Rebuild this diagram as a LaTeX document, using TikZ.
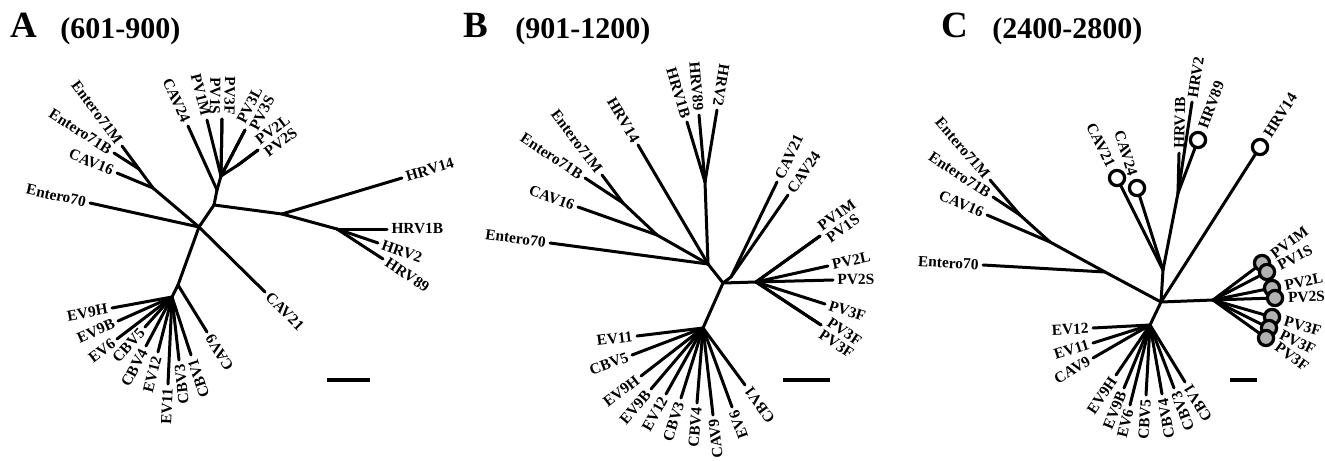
\documentclass[tikz,border=0pt]{standalone}
\usepackage{fontspec}
\setmainfont{Liberation Serif}
\usetikzlibrary{calc}
\definecolor{pvgray}{RGB}{178,178,178}
\newcommand{\lbfont}{\fontsize{7.7}{8}\selectfont\bfseries}

\begin{document}
\begin{tikzpicture}[x=0.5pt, y=-0.5pt,
    branch/.style={line width=1.5pt, line cap=round},
    tiplab/.style={pos=1, sloped, allow upside down, anchor=west, inner xsep=1.5pt, inner ysep=0.3pt, font=\lbfont},
    tiplabr/.style={tiplab, pos=0, anchor=east},
    ringlab/.style={tiplab, inner xsep=5.8pt},
    ringlabr/.style={tiplabr, inner xsep=5.8pt},
    ring/.style={circle, draw, line width=1.6pt, fill=white, minimum size=7.6pt, inner sep=0pt},
    pvring/.style={ring, fill=pvgray},
    panellab/.style={anchor=base west, inner sep=0pt, font=\fontsize{18.5}{20}\selectfont\bfseries},
    rangelab/.style={anchor=base west, inner sep=0pt, font=\fontsize{15}{16}\selectfont\bfseries}
]
\useasboundingbox (0,0) rectangle (1325,460);

% titles
\node[panellab] (titA) at (10,38) {A};
\node[rangelab] (rngA) at (60,39) {(601-900)};
\node[panellab] (titB) at (463,38) {B};
\node[rangelab] (rngB) at (515,39) {(901-1200)};
\node[panellab] (titC) at (941,38) {C};
\node[rangelab] (rngC) at (992,39) {(2400-2800)};

% ---------- A ----------
\foreach \n/\x/\y in {a0/199/227, a1/214/205, a2/217/190, a3/221/176, ap/238/165, ah/282/214,
    ah2/337/229, al1/153/188, al2/139/169, ab1/178/285, ab2/172/297}
    \coordinate (\n) at (\x,\y);
\foreach \u/\v in {a0/a1, a1/a2, a2/a3, a3/ap, a1/ah, ah/ah2, a0/al1, al1/al2, a0/ab1, ab1/ab2}
    \draw[branch] (\u) -- (\v);

\foreach \p/\x/\y/\t/\a [count=\i] in {a3/245/130/PV3L/south west, a3/245/130/PV3S/north west,
    ap/258/150/PV2L/south west, ap/258/150/PV2S/north west, ah/402/178/HRV14/west,
    ah2/387/229/HRV1B/west, ah2/378/243/HRV2/west, ah2/383/259/HRV89/west, a0/265/292/CAV21/west} {
    \coordinate (ao\i) at (\x,\y);
    \draw[branch] (\p) -- (ao\i) node[tiplab, anchor=\a] {\t};
}
\foreach \p/\x/\y/\t/\a [count=\i] in {a2/188/126/CAV24/east, a3/207/120/PV1M/east,
    a3/222/119/PV1S/north east, a3/222/119/PV3F/south east, a0/90/203/Entero70/east,
    al1/117/173/CAV16/east, al2/122/146/Entero71M/east, al2/114/153/Entero71B/east,
    ab1/207/332/CAV9/east, ab2/112/308/EV9H/east, ab2/118/321/EV9B/east, ab2/117/339/EV6/east,
    ab2/145/327/CBV5/east, ab2/146/346/CBV4/east, ab2/158/352/EV12/east, ab2/168/384/EV11/east,
    ab2/179/360/CBV3/east, ab2/191/355/CBV1/east} {
    \coordinate (ai\i) at (\x,\y);
    \draw[branch] (ai\i) -- (\p) node[tiplabr, anchor=\a] {\t};
}

% ---------- B ----------
\foreach \n/\x/\y in {b0/723/283, b1/708/264, bh/705/182, be1/657/235, be2/623/203,
    bc/731/277, bp/756/282, bb/703/328}
    \coordinate (\n) at (\x,\y);
\foreach \u/\v in {b0/b1, b1/bh, b1/be1, be1/be2, b0/bc, b0/bp, b0/bb}
    \draw[branch] (\u) -- (\v);

\foreach \p/\x/\y/\t/\a [count=\i] in {bc/777/182/CAV21/west, bc/788/195/CAV24/west,
    bp/820/236/PV1M/south west, bp/820/236/PV1S/north west, bp/828/266/PV2L/west,
    bp/833/280/PV2S/west, bp/825/304/PV3F/west, bp/821/325/PV3F/south west,
    bp/821/325/PV3F/north west} {
    \coordinate (bo\i) at (\x,\y);
    \draw[branch] (\p) -- (bo\i) node[tiplab, anchor=\a] {\t};
}
\foreach \p/\x/\y/\t/\a [count=\i] in {b1/550/243/Entero70/east, be1/578/207/CAV16/east,
    be2/602/175/Entero71M/east, be2/585/178/Entero71B/east, b1/638/145/HRV14/east,
    bh/687/122/HRV1B/east, bh/699/115/HRV89/east, bh/717/110/HRV2/east,
    bb/637/336/EV11/east, bb/632/355/CBV5/east, bb/641/376/EV9H/east, bb/651/389/EV9B/east,
    bb/666/394/EV12/east, bb/681/398/CBV3/east, bb/697/403/CBV4/east, bb/713/415/CAV9/east,
    bb/732/407/EV6/east, bb/745/385/CBV1/east} {
    \coordinate (bi\i) at (\x,\y);
    \draw[branch] (bi\i) -- (\p) node[tiplabr, anchor=\a] {\t};
}

% ---------- C ----------
\foreach \n/\x/\y in {c0/1161/302, cu/1163/270, ch/1178/193, ce0/1105/272, ce1/1050/242,
    ce2/1020/215, cp/1213/300, cb/1150/325}
    \coordinate (\n) at (\x,\y);
\foreach \u/\v in {c0/cu, cu/ch, c0/ce0, ce0/ce1, ce1/ce2, c0/cp, c0/cb}
    \draw[branch] (\u) -- (\v);

\foreach \p/\x/\y/\t [count=\i] in {ch/1179/153/HRV1B, ch/1192/102/HRV2} {
    \coordinate (co\i) at (\x,\y);
    \draw[branch] (\p) -- (co\i) node[tiplab] {\t};
}
\foreach \p/\x/\y/\t [count=\i] in {ce0/983/265/Entero70, ce1/987/215/CAV16,
    ce2/990/180/Entero71M, ce2/993/197/Entero71B, cb/1093/328/EV12, cb/1093/343/EV11,
    cb/1093/358/CAV9, cb/1116/375/EV9H, cb/1124/388/EV9B, cb/1130/405/EV6, cb/1146/395/CBV5,
    cb/1162/394/CBV4, cb/1174/388/CBV3, cb/1185/382/CBV1} {
    \coordinate (ci\i) at (\x,\y);
    \draw[branch] (ci\i) -- (\p) node[tiplabr] {\t};
}
% ringed tips
\foreach \p/\x/\y/\t [count=\i] in {ch/1198/140/HRV89, c0/1260/147/HRV14} {
    \coordinate (cro\i) at (\x,\y);
    \draw[branch] (\p) -- (cro\i) node[ringlab] {\t};
}
\foreach \p/\x/\y/\t [count=\i] in {cu/1117/178/CAV21, cu/1137/188/CAV24} {
    \coordinate (cri\i) at (\x,\y);
    \draw[branch] (cri\i) -- (\p) node[ringlabr] {\t};
}
\foreach \x/\y/\t [count=\i] in {1262/263/PV1M, 1267/272/PV1S, 1272/288/PV2L, 1275/298/PV2S,
    1272/317/PV3F, 1269/328/PV3F, 1266/338/PV3F} {
    \coordinate (cpv\i) at (\x,\y);
    \draw[branch] (cp) -- (cpv\i) node[ringlab] {\t};
}
\foreach \i in {1,2} {
    \node[ring] (ro\i) at (cro\i) {};
    \node[ring] (ri\i) at (cri\i) {};
}
\foreach \i in {1,...,7}
    \node[pvring] (pv\i) at (cpv\i) {};

% scale bars
\foreach \x/\l/\r in {a/327/370, b/783/830, c/1230/1257} {
    \coordinate (s\x1) at (\l,380);
    \coordinate (s\x2) at (\r,380);
    \draw[line width=1.6pt] (s\x1) -- (s\x2);
}

\end{tikzpicture}
\end{document}
